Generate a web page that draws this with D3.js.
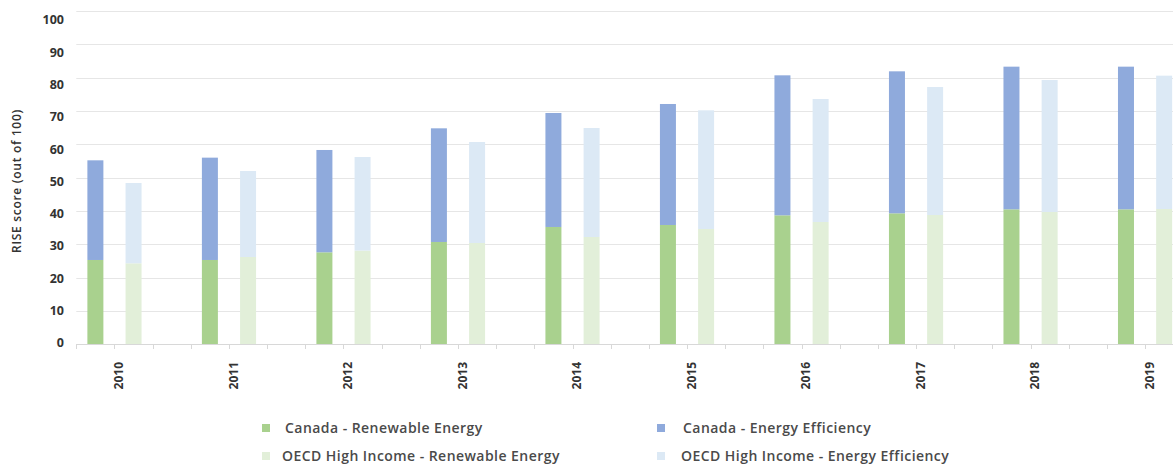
<!DOCTYPE html>
<html><head><meta charset="utf-8">
<script src="https://cdn.jsdelivr.net/npm/d3@7/dist/d3.min.js"></script>
<style>
html,body{margin:0;padding:0;background:#fff;}
svg{display:block;font-family:"Open Sans",sans-serif;}
</style></head>
<body><svg id="c" width="1173" height="464"></svg>
<script>
const years = ["2010","2011","2012","2013","2014","2015","2016","2017","2018","2019"];
const canadaRenewable = [25.3, 25.3, 27.6, 30.7, 35.2, 35.8, 38.7, 39.3, 40.5, 40.5];
const canadaEfficiency = [29.9, 30.7, 30.7, 34.1, 34.2, 36.3, 42.0, 42.6, 42.8, 42.8];
const oecdRenewable = [24.3, 26.2, 28.1, 30.4, 32.2, 34.6, 36.7, 38.8, 39.7, 40.6];
const oecdEfficiency = [24.1, 25.8, 28.1, 30.3, 32.7, 35.6, 36.9, 38.4, 39.6, 40.0];
const yTicks = [0,10,20,30,40,50,60,70,80,90,100];
const seriesNames = ["Canada - Renewable Energy","Canada - Energy Efficiency","OECD High Income - Renewable Energy","OECD High Income - Energy Efficiency"];
const colors = ["#a9d18e","#8faadc","#e2efd9","#dce9f5"];

const svg = d3.select("#c");
const slotW = 38.17, x0 = 76.3;
const slots = d3.range(30);
const x = d3.scaleBand().domain(slots).range([x0, x0 + 30*slotW]).paddingInner(0).paddingOuter(0);
const y = d3.scaleLinear().domain([0,100]).range([344.3, 11]);
const yLab = d3.scaleLinear().domain([0,100]).range([343, 20]);
const barW = 16;

// gridlines
svg.append("g").selectAll("line").data(yTicks.filter(d=>d>0)).join("line")
  .attr("x1", x0).attr("x2", 1173).attr("y1", d=>Math.round(y(d))+0.5).attr("y2", d=>Math.round(y(d))+0.5)
  .attr("stroke","#e6e6e6").attr("stroke-width",1);

// y labels
svg.append("g").selectAll("text").data(yTicks).join("text")
  .attr("x", 64).attr("y", d=>yLab(d)).attr("dy","0.35em").attr("text-anchor","end")
  .attr("font-size", 12.5).attr("font-weight", 700).attr("fill","#333").text(d=>d);

// y title
svg.append("text").attr("transform","translate(17,181) rotate(-90)").attr("dy","0.35em")
  .attr("text-anchor","middle").attr("font-size",12).attr("font-weight",600).attr("fill","#333")
  .attr("letter-spacing",0.7)
  .text("RISE score (out of 100)");

// bars
const stacks = [
  {slotOff:0, parts:[canadaRenewable, canadaEfficiency], cols:[0,1]},
  {slotOff:1, parts:[oecdRenewable, oecdEfficiency], cols:[2,3]}
];
const barG = svg.append("g");
stacks.forEach(s=>{
  years.forEach((yr,i)=>{
    const slot = i*3 + s.slotOff;
    const bx = x(slot) + (x.bandwidth()-barW)/2;
    let base = 0;
    s.parts.forEach((arr,k)=>{
      const v = arr[i];
      barG.append("rect").attr("x", bx).attr("width", barW)
        .attr("y", y(base+v)).attr("height", y(base)-y(base+v))
        .attr("fill", colors[s.cols[k]]);
      base += v;
    });
  });
});

// x axis line + ticks
svg.append("line").attr("x1", x0).attr("x2",1173).attr("y1",344.5).attr("y2",344.5).attr("stroke","#d8d8d8");
svg.append("g").selectAll("line").data(d3.range(31)).join("line")
  .attr("x1", d=>Math.round(x0 + d*slotW)+0.5).attr("x2", d=>Math.round(x0 + d*slotW)+0.5)
  .attr("y1",344).attr("y2",349).attr("stroke","#d8d8d8");

// x labels
svg.append("g").selectAll("text").data(years).join("text")
  .attr("transform",(d,i)=>`translate(${x(i*3+1)+4.5},362) rotate(-90)`)
  .attr("dy","0.35em").attr("text-anchor","end")
  .attr("font-size",12).attr("font-weight",700).attr("fill","#333").text(d=>d);

// legend
const legPos = [[262,428],[657,428],[262,456],[657,456]];
const legText = [285,683,282,681];
seriesNames.forEach((n,i)=>{
  svg.append("rect").attr("x",legPos[i][0]).attr("y",legPos[i][1]-4).attr("width",8).attr("height",8).attr("fill",colors[i]);
  svg.append("text").attr("x",legText[i]).attr("y",legPos[i][1]).attr("dy","0.35em")
    .attr("font-size",14).attr("font-weight",600).attr("fill","#4a4a4a").attr("letter-spacing",0.45).text(n);
});
</script></body></html>
